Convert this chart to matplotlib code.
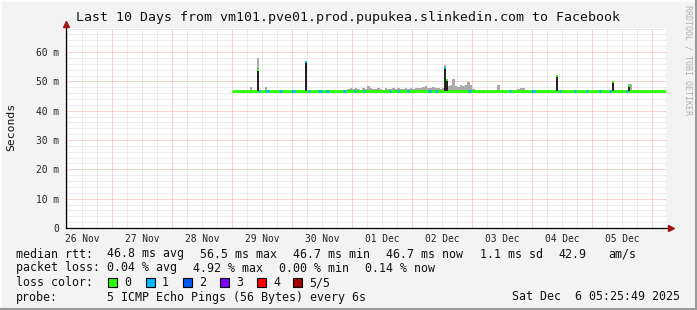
import datetime as dt
import matplotlib
matplotlib.use("Agg")
import matplotlib.pyplot as plt
import matplotlib.dates as mdates
from matplotlib.ticker import MultipleLocator, FuncFormatter
from matplotlib.patches import Rectangle
from matplotlib.lines import Line2D

# ---- data (hours after 29 Nov 00:00, values in ms) ----
start = dt.datetime(2025, 11, 26, 5, 25, 49)
end = dt.datetime(2025, 12, 6, 5, 25, 49)
t0 = dt.datetime(2025, 11, 29, 0, 0)

median_hours = [0, 12, 24, 36, 48, 60, 72, 84, 96, 108, 120, 132, 144, 156, 168, 173.4]
median_ms = [46.7, 46.6, 46.7, 46.7, 46.6, 46.7, 46.7, 46.7, 46.6, 46.7, 46.7, 46.7, 46.6, 46.7, 46.7, 46.7]

# smoke (spread of the pings), top of the grey band, 1 hour bins
smoke_hours = [7, 13,
               44, 45, 46, 47, 48, 49, 50, 51, 52, 53, 54, 55, 56, 57, 58, 59, 60, 61,
               62, 63, 64, 65, 66, 67, 68, 69, 70, 71, 72, 73, 74, 75, 76, 77, 78, 79,
               80, 81, 82, 83, 84, 85, 86, 87, 88, 89, 90, 91, 92, 93, 94, 95, 96, 97,
               106, 114, 115, 116, 159]
smoke_top = [48.1, 48.0,
             47.0, 47.2, 47.5, 47.6, 47.3, 47.6, 47.5, 47.2, 47.6, 47.4, 48.3, 47.6, 47.5, 47.3, 47.7, 47.4, 47.2, 47.6,
             47.5, 47.3, 47.6, 47.4, 47.7, 47.5, 47.3, 47.6, 47.4, 47.7, 47.5, 47.8, 47.6, 47.9, 48.1, 48.3, 47.8, 47.9,
             48.0, 47.7, 47.8, 47.5, 47.6, 47.0, 48.3, 48.6, 50.9, 48.4, 48.2, 48.7, 48.3, 48.9, 49.7, 48.6, 47.3, 47.1,
             48.9, 47.5, 47.7, 47.6, 49.0]

# short high-latency spikes
spike_hours = [10.0, 29.0, 84.6, 85.6, 129.4, 151.8, 158.2]
spike_top = [54.0, 56.5, 54.4, 50.3, 51.8, 49.8, 48.3]
spike_smoke = [57.8, 56.5, 55.6, 50.3, 51.8, 49.8, 49.0]
spike_loss = [0, 1, 1, 0, 0, 0, 0]

# packet loss events on the median line
loss_hours = [10.2, 13.4, 18.6, 23.4, 30.2, 34.2, 37.4, 44.2, 48.6, 52.2, 62.6, 65.8,
              69.8, 78.2, 81.0, 94.2, 110.6, 119.4, 130.6, 136.6, 141.4, 146.6, 150.6, 157.4]
loss_len = [1.0, 1.2, 1.4, 1.6, 0.8, 1.6, 1.4, 1.4, 1.0, 0.8, 0.8, 0.8,
            0.8, 1.4, 0.8, 1.2, 0.8, 1.6, 0.8, 0.8, 0.8, 0.8, 0.8, 0.8]
loss_count = [1] * len(loss_hours)

loss_labels = ["0", "1", "2", "3", "4", "5/5"]
loss_colors = ["#26ff00", "#00b8ff", "#0059ff", "#7e00ff", "#ff0000", "#a10000"]

rtt_stats = [46.8, 56.5, 46.7, 46.7, 1.1, 42.9]
loss_stats = [0.04, 4.92, 0.00, 0.14]

W, H = 697, 310
MONO = "DejaVu Sans Mono"


def hdate(h):
    return mdates.date2num(t0 + dt.timedelta(hours=h))


fig = plt.figure(figsize=(W / 100, H / 100), dpi=100, facecolor="#f3f3f3")
ax = fig.add_axes([66 / W, 1 - 228 / H, 600 / W, 200 / H])
ax.set_facecolor("white")
ax.set_xlim(mdates.date2num(start), mdates.date2num(end))
ax.set_ylim(0, 68.2)

# grids
ax.yaxis.set_major_locator(MultipleLocator(10))
ax.yaxis.set_minor_locator(MultipleLocator(2))
ax.grid(axis="y", which="minor", color="#d8d8d8", lw=0.72, ls=(0, (1, 1)))
ax.grid(axis="y", which="major", color="#f2a4a4", lw=0.72, ls=(0, (1, 1)))
ax.xaxis.set_major_locator(mdates.DayLocator())
ax.xaxis.set_minor_locator(mdates.HourLocator(byhour=[6, 12, 18]))
ax.grid(axis="x", which="minor", color="#d8d8d8", lw=0.72, ls=(0, (1, 1)))
ax.grid(axis="x", which="major", color="#f2a4a4", lw=0.72, ls=(0, (1, 1)))
ax.set_axisbelow(True)

ax.xaxis.set_major_formatter(FuncFormatter(lambda v, p: ""))
ax.xaxis.set_minor_formatter(FuncFormatter(
    lambda v, p: mdates.num2date(v).strftime("%d %b") if mdates.num2date(v).hour == 12 else ""))
ax.yaxis.set_major_formatter(FuncFormatter(lambda v, p: "0" if v == 0 else "%d m" % v))
ax.tick_params(axis="both", which="both", length=0)
ax.tick_params(axis="y", pad=5, labelsize=6.9, labelcolor="#222222")
ax.tick_params(axis="x", which="minor", pad=4, labelsize=6.9, labelcolor="#222222")
for lab in ax.get_xticklabels(minor=True) + ax.get_yticklabels():
    lab.set_family(MONO)

for s in ax.spines.values():
    s.set_visible(False)

# smoke
ax.bar([hdate(h) for h in smoke_hours],
       [t - 46.7 for t in smoke_top], bottom=46.7,
       width=1 / 24, align="edge", color="#aaaaaa", lw=0, zorder=2)

# median line (no loss)
ax.step([hdate(h) for h in median_hours], median_ms, where="post",
        color=loss_colors[0], lw=2.0, zorder=3, solid_capstyle="butt")

# loss segments
for h, ln, c in zip(loss_hours, loss_len, loss_count):
    ax.plot([hdate(h), hdate(h + ln)], [46.7, 46.7], color=loss_colors[c],
            lw=2.0, zorder=4, solid_capstyle="butt")

# spikes
for h, top, sm, c in zip(spike_hours, spike_top, spike_smoke, spike_loss):
    x = hdate(h)
    ax.bar(x, sm - 46.7, bottom=46.7, width=0.8 / 24, align="edge",
           color="#aaaaaa", lw=0, zorder=2)
    ax.bar(x, top - 46.7, bottom=46.7, width=0.8 / 24, align="edge",
           color="#222222", lw=0, zorder=5)
    ax.plot([x, x + 0.8 / 24], [top, top], color=loss_colors[c], lw=1.4,
            zorder=6, solid_capstyle="butt")

# axes with arrows
ax.plot([0, 1.008], [0, 0], transform=ax.transAxes, color="black", lw=0.9,
        clip_on=False, zorder=7)
ax.plot([0, 0], [0, 1.01], transform=ax.transAxes, color="black", lw=0.9,
        clip_on=False, zorder=7)
ax.plot([1.009], [0], marker=">", ms=4, color="#a01414", transform=ax.transAxes,
        clip_on=False, zorder=8)
ax.plot([0], [1.02], marker="^", ms=4, color="#a01414", transform=ax.transAxes,
        clip_on=False, zorder=8)


# texts
def ftext(x, y, s, **kw):
    kw.setdefault("family", MONO)
    kw.setdefault("fontsize", 8.37)
    kw.setdefault("color", "#111111")
    fig.text(x / W, 1 - y / H, s, va="center", **kw)


ftext(348, 18, "Last 10 Days from vm101.pve01.prod.pupukea.slinkedin.com to Facebook",
      fontsize=9.57, ha="center")
ftext(11, 127, "Seconds", rotation=90, ha="center", fontsize=8.2)
ftext(688, 60, "RRDTOOL / TOBI OETIKER", rotation=270, ha="center",
      fontsize=6.0, color="#b0b0b0")

ftext(16, 254, "median rtt:")
ftext(107, 254, "%.1f ms avg" % rtt_stats[0])
ftext(200, 254, "%.1f ms max" % rtt_stats[1])
ftext(293, 254, "%.1f ms min" % rtt_stats[2])
ftext(386, 254, "%.1f ms now" % rtt_stats[3])
ftext(480, 254, "%.1f ms sd" % rtt_stats[4])
ftext(558, 254, "%.1f" % rtt_stats[5])
ftext(608, 254, "am/s")

ftext(16, 268, "packet loss:")
ftext(107, 268, "%.2f %% avg" % loss_stats[0])
ftext(193, 268, "%.2f %% max" % loss_stats[1])
ftext(279, 268, "%.2f %% min" % loss_stats[2])
ftext(365, 268, "%.2f %% now" % loss_stats[3])

ftext(16, 283, "loss color:")
box_x = [108, 146, 183, 220, 257, 293]
for bx, lab, col in zip(box_x, loss_labels, loss_colors):
    fig.add_artist(Rectangle((bx / W, 1 - 287 / H), 9 / W, 9 / H,
                             transform=fig.transFigure, facecolor=col,
                             edgecolor="black", lw=0.8))
    ftext(bx + 16, 283, lab)

ftext(16, 297, "probe:")
ftext(107, 297, "5 ICMP Echo Pings (56 Bytes) every 6s")
ftext(680, 297, "Sat Dec  6 05:25:49 2025", ha="right")

# 3D frame
fig.add_artist(Line2D([0, 1], [1 - 0.5 / H] * 2, color="#fdfdfd", lw=1.4, transform=fig.transFigure))
fig.add_artist(Line2D([0.5 / W] * 2, [0, 1], color="#fdfdfd", lw=1.4, transform=fig.transFigure))
fig.add_artist(Line2D([0, 1], [1 / H] * 2, color="#9a9a9a", lw=1.5, transform=fig.transFigure))
fig.add_artist(Line2D([1 - 1 / W] * 2, [0, 1], color="#9a9a9a", lw=1.5, transform=fig.transFigure))

fig.savefig("out.png", dpi=100, facecolor=fig.get_facecolor())
